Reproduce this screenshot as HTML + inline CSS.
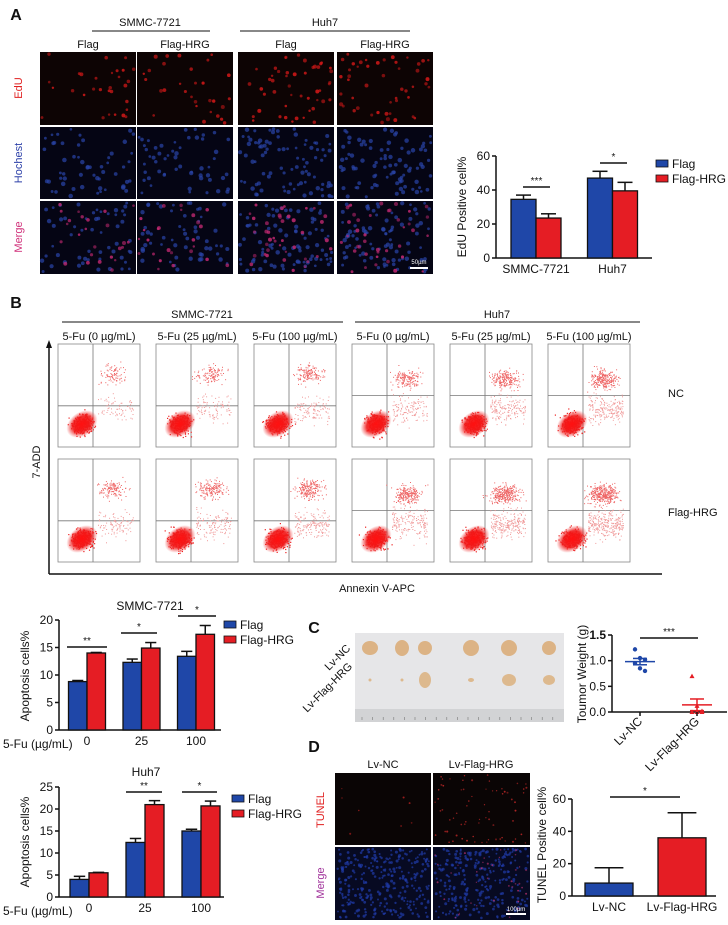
<!DOCTYPE html>
<html><head><meta charset="utf-8"><style>
html,body{margin:0;padding:0;background:#fff;}
svg{display:block;font-family:"Liberation Sans",Arial,sans-serif;}
</style></head><body>
<svg id="fig" width="728" height="925" viewBox="0 0 728 925" xmlns="http://www.w3.org/2000/svg">
<defs>
<radialGradient id="cloud" cx="50%" cy="50%" r="50%">
<stop offset="0" stop-color="#ff1010" stop-opacity="1"/>
<stop offset="0.6" stop-color="#f01818" stop-opacity="0.9"/>
<stop offset="1" stop-color="#f04040" stop-opacity="0"/>
</radialGradient>
</defs>
</svg>
<script>
// ===== data =====
const edCats=['SMMC-7721','Huh7'];
const edFlag=[34.5,47];
const edFlagErr=[2.5,4];
const edHrg=[23.5,39.5];
const edHrgErr=[2.5,5];
const edTicks=[0,20,40,60];
const apoDoses=['0','25','100'];
const smFlag=[8.8,12.3,13.4];
const smFlagErr=[0.2,0.6,0.9];
const smHrg=[14,14.9,17.4];
const smHrgErr=[0.1,1,1.6];
const smTicks=[0,5,10,15,20];
const huFlag=[4,12.4,15];
const huFlagErr=[0.7,0.9,0.4];
const huHrg=[5.5,21,20.7];
const huHrgErr=[0.1,0.9,1.1];
const huTicks=[0,5,10,15,20,25];
const tumorCats=['Lv-NC','Lv-Flag-HRG'];
const tumorNC=[1.22,1.05,1.02,0.95,0.85,0.8];
const tumorHRG=[0.7,0.12,0.02,0.0,0.0,0.0];
const tumorTicks=[0.0,0.5,1.0,1.5];
const tunelCats=['Lv-NC','Lv-Flag-HRG'];
const tunelVals=[8,36];
const tunelErr=[9.5,15.5];
const tunelTicks=[0,20,40,60];

const S=document.getElementById('fig');
const NS='http://www.w3.org/2000/svg';
const BLUE='#1f47a8',RED='#e51d24';
function el(tag,attrs,parent){const e=document.createElementNS(NS,tag);for(const k in attrs)e.setAttribute(k,attrs[k]);(parent||S).appendChild(e);return e;}
function txt(x,y,s,size,name,opts){opts=opts||{};const t=el('text',{x:x,y:y,'font-size':size,fill:opts.fill||'#111','text-anchor':opts.anchor||'middle','font-weight':opts.bold?'bold':'normal'});
if(opts.rot!==undefined)t.setAttribute('transform','rotate('+opts.rot+' '+x+' '+y+')');
t.textContent=s;


return t;}
function line(x1,y1,x2,y2,name,w,c){const l=el('line',{x1:x1,y1:y1,x2:x2,y2:y2,stroke:c||'#111','stroke-width':w||1.5});


return l;}
let seed=7;function rnd(){seed=(seed*16807)%2147483647;return seed/2147483647;}
function gauss(){return (rnd()+rnd()+rnd()+rnd()-2)/1.15;}

txt(16,20,'A',16,'panel-a-label',{bold:true});
txt(16,308,'B',16,'panel-b-label',{bold:true});
txt(314,633,'C',16,'panel-c-label',{bold:true});
txt(314,752,'D',16,'panel-d-label',{bold:true});

function micro(x,y,w,h,bg,dots,name){
  const g=el('g',{});
  
  
  el('rect',{x:x,y:y,width:w,height:h,fill:bg},g);
  dots.forEach(d=>{for(let i=0;i<d.n;i++){el('circle',{cx:(x+2+rnd()*(w-4)).toFixed(1),cy:(y+2+rnd()*(h-4)).toFixed(1),r:d.r*(0.7+rnd()*0.5),fill:d.c,opacity:d.o||(0.5+rnd()*0.4)},g);}});
  return g;
}
txt(150,26,'SMMC-7721',11,'header-smmc');line(92,31,210,31,'header-line-smmc',1);
txt(325,26,'Huh7',11,'header-huh7');line(240,31,410,31,'header-line-huh7',1);
const aCols=[40,137,238,337],aLab=['Flag','Flag-HRG','Flag','Flag-HRG'];
aCols.forEach((cx,i)=>txt(cx+48,48,aLab[i],11,'col-label-'+aLab[i].toLowerCase()));
const aRows=[52,127,201];
aCols.forEach((cx,i)=>{const dense=i>=2?1.6:1;
 micro(cx,aRows[0],96,73,'#0d0404',[{n:Math.round(30*dense),r:1.7,c:'#d01818'}],'edu-image');
 micro(cx,aRows[1],96,72,'#050514',[{n:Math.round(55*dense),r:1.9,c:'#2a44a8',o:0.7}],'hoechst-image');
 micro(cx,aRows[2],96,73,'#050514',[{n:Math.round(55*dense),r:1.9,c:'#2a44a8',o:0.7},{n:Math.round(25*dense),r:1.7,c:'#c02870'}],'merge-image');
});
line(410,268,428,268,'scale-bar-a',2,'#fff');
txt(419,264,'50µm',6,'scale-label-a',{fill:'#fff'});
txt(22,88,'EdU',11,'row-label-edu',{fill:'#e02020',rot:-90});
txt(22,163,'Hochest',11,'row-label-hochest',{fill:'#2b3fa8',rot:-90});
txt(22,237,'Merge',11,'row-label-merge',{fill:'#d0307a',rot:-90});

function barChart(c){
  const y=v=>c.y0-(v-c.ticks[0])/(c.ticks[c.ticks.length-1]-c.ticks[0])*(c.y0-c.yTop);
  line(c.ax,c.yTop,c.ax,c.y0,c.prefix+'-y-axis',1.5);
  line(c.ax,c.y0,c.axEnd,c.y0,c.prefix+'-x-axis',1.5);
  c.ticks.forEach(t=>{line(c.ax-4,y(t),c.ax,y(t),c.prefix+'-y-tick',1.5);txt(c.ax-6,y(t)+4,String(t),12,c.prefix+'-y-tick-label',{anchor:'end'});});
  c.cats.forEach((cat,i)=>{
    const cx=c.first+i*c.step;
    txt(cx,c.y0+15,cat,12,c.prefix+'-x-label');
    c.series.forEach((s,j)=>{
      const n=c.series.length;const bx=cx-n*c.bw/2+j*c.bw;
      const v=s.vals[i],e=s.err[i];
      line(bx+c.bw/2,y(v),bx+c.bw/2,y(v+e),c.prefix+'-error-bar',1.5);
      line(bx+c.bw/2-c.bw*0.3,y(v+e),bx+c.bw/2+c.bw*0.3,y(v+e),c.prefix+'-error-cap',1.5);
      const r=el('rect',{x:bx,y:y(v),width:c.bw,height:c.y0-y(v),fill:(s.colors?s.colors[i]:s.color),stroke:'#111','stroke-width':1.3});
      
      
    });
  });
  return y;
}
function legend(x,y,name){
  [['Flag',BLUE],['Flag-HRG',RED]].forEach((l,i)=>{
    const r=el('rect',{x:x,y:y+i*15-5,width:12,height:7,fill:l[1],stroke:'#111','stroke-width':0.8});
    
    
    txt(x+16,y+i*15+3,l[0],12,name+'-entry',{anchor:'start'});
  });
}
function sig(x1,x2,yy,s,name){line(x1,yy,x2,yy,name+'-line',1.5);txt((x1+x2)/2,yy-3,s,10,name+'-stars');}

barChart({prefix:'edu-chart',ax:496,axEnd:652,y0:258,yTop:156,ticks:edTicks,cats:edCats,first:536,step:76.5,bw:25,
 series:[{key:'flag',vals:edFlag,err:edFlagErr,color:BLUE},{key:'hrg',vals:edHrg,err:edHrgErr,color:RED}]});
sig(523,550,187,'***','edu-sig-smmc');sig(600,627,163,'*','edu-sig-huh7');
legend(656,165,'edu-legend');
txt(466,207,'EdU Positive cell%',12,'edu-y-title',{rot:-90});

txt(202,318,'SMMC-7721',11,'header-b-smmc');line(62,322,343,322,'header-b-line-smmc',1);
txt(497,318,'Huh7',11,'header-b-huh7');line(355,322,640,322,'header-b-line-huh7',1);
const fCols=[58,156,254,352,450,548],fRows=[344,459];
const doses=['5-Fu (0 µg/mL)','5-Fu (25 µg/mL)','5-Fu (100 µg/mL)'];
fCols.forEach((fx,i)=>{txt(fx+41,340,doses[i%3],11,'dose-header');
 fRows.forEach((fy,r)=>{
  const g=el('g',{});
  
  
  el('rect',{x:fx,y:fy,width:82,height:103,fill:'#fff',stroke:'#888','stroke-width':0.8},g);
  const hy=fy+(i>=3?0.5:0.6)*103;
  el('line',{x1:fx+35,y1:fy,x2:fx+35,y2:fy+103,stroke:'#777','stroke-width':0.8},g);
  el('line',{x1:fx,y1:hy,x2:fx+82,y2:hy,stroke:'#777','stroke-width':0.8},g);
  const amt=(i>=3?1.8:1)*(r==1?1.4:1)*(1+(i%3)*0.3);
  for(let k=0;k<Math.round(90*amt);k++){const px=fx+55+gauss()*14,py=fy+(i>=3?35:30)+gauss()*9;
    if(px>fx+2&&px<fx+80&&py>fy+2&&py<fy+101)el('rect',{x:px.toFixed(1),y:py.toFixed(1),width:1,height:1,fill:'#e66'},g);}
  for(let k=0;k<Math.round(70*amt);k++){const px=fx+40+rnd()*35,py=fy+65+gauss()*14;
    if(px>fx+2&&px<fx+80&&py>fy+2&&py<fy+101)el('rect',{x:px.toFixed(1),y:py.toFixed(1),width:1,height:1,fill:'#f09a9a'},g);}
  for(let k=0;k<260;k++){const px=fx+24+gauss()*11,py=fy+80+gauss()*10;el('rect',{x:px.toFixed(1),y:py.toFixed(1),width:1.2,height:1.2,fill:'#e22'},g);}
  el('ellipse',{cx:fx+24,cy:fy+80,rx:17,ry:12,fill:'url(#cloud)',transform:'rotate(-35 '+(fx+24)+' '+(fy+80)+')'},g);
 });
});
line(49,346,49,574,'y-axis-arrow-b',1.5);
el('polygon',{points:'49,340 46,348 52,348',fill:'#111'});
line(49,574,662,574,'x-axis-b',1.5);
txt(40,462,'7-ADD',11,'flow-y-title',{rot:-90});
txt(377,592,'Annexin V-APC',11,'flow-x-title');
txt(668,397,'NC',11,'row-label-nc',{anchor:'start'});
txt(668,516,'Flag-HRG',11,'row-label-flag-hrg',{anchor:'start'});

txt(150,610,'SMMC-7721',12,'apo-smmc-title');
barChart({prefix:'apo-smmc',ax:59,axEnd:221,y0:730,yTop:620,ticks:smTicks,cats:apoDoses,first:87,step:54.5,bw:18.5,
 series:[{key:'flag',vals:smFlag,err:smFlagErr,color:BLUE},{key:'hrg',vals:smHrg,err:smHrgErr,color:RED}]});
txt(3,748,'5-Fu (µg/mL)',12,'apo-smmc-dose-label',{anchor:'start'});
sig(67,107,647,'**','apo-smmc-sig-0');sig(121,157,633,'*','apo-smmc-sig-25');sig(178,216,616,'*','apo-smmc-sig-100');
legend(224,626,'apo-smmc-legend');
txt(29,676,'Apoptosis cells%',12,'apo-smmc-y-title',{rot:-90});

txt(146,776,'Huh7',12,'apo-huh7-title');
barChart({prefix:'apo-huh7',ax:59,axEnd:224,y0:897,yTop:787,ticks:huTicks,cats:apoDoses,first:89,step:56,bw:19,
 series:[{key:'flag',vals:huFlag,err:huFlagErr,color:BLUE},{key:'hrg',vals:huHrg,err:huHrgErr,color:RED}]});
txt(3,915,'5-Fu (µg/mL)',12,'apo-huh7-dose-label',{anchor:'start'});
sig(126,162,792,'**','apo-huh7-sig-25');sig(182,217,792,'*','apo-huh7-sig-100');
legend(232,800,'apo-huh7-legend');
txt(29,842,'Apoptosis cells%',12,'apo-huh7-y-title',{rot:-90});

(function(){
 const g=el('g',{});
 
 
 el('rect',{x:355,y:633,width:209,height:89,fill:'#e6e6e8'},g);
 el('rect',{x:355,y:709,width:209,height:13,fill:'#d2d3d5'},g);
 for(let i=0;i<19;i++)el('line',{x1:362+i*10.6,y1:717,x2:362+i*10.6,y2:720,stroke:'#777','stroke-width':0.6},g);
 const xs=[370,402,425,471,509,549],rs=[[8,7],[7,8],[7,7],[8,8],[8,8],[7,7]],ls=[[1.5,1.5],[1.5,1.5],[6,8],[3,2],[7,6],[6,5]];
 xs.forEach((x,i)=>{el('ellipse',{cx:x,cy:648,rx:rs[i][0],ry:rs[i][1],fill:'#dcb385'},g);el('ellipse',{cx:x,cy:680,rx:ls[i][0],ry:ls[i][1],fill:'#ddb98e'},g);});
})();
txt(340,660,'Lv-NC',11,'photo-label-lv-nc',{rot:-45});
txt(330,690,'Lv-Flag-HRG',11,'photo-label-lv-flag-hrg',{rot:-45});

(function(){
 const ax=612,y0=712,yTop=635,cx=[640,697];
 const y=v=>y0-(v-tumorTicks[0])/(tumorTicks[tumorTicks.length-1]-tumorTicks[0])*(y0-yTop);
 line(ax,yTop,ax,y0,'tumor-y-axis',1.5);line(ax,y0,727,y0,'tumor-x-axis',1.5);
 tumorTicks.forEach(t=>{line(ax-4,y(t),ax,y(t),'tumor-y-tick',1.5);txt(ax-6,y(t)+4,t.toFixed(1),12,'tumor-y-tick-label',{anchor:'end',bold:t===1.5});});
 [tumorNC,tumorHRG].forEach((arr,gi)=>{
  const col=gi?RED:BLUE;const m=arr.reduce((a,b)=>a+b,0)/arr.length;
  const sd=Math.sqrt(arr.reduce((a,b)=>a+(b-m)*(b-m),0)/(arr.length-1)),se=sd/Math.sqrt(arr.length);
  arr.forEach((v,k)=>{const off=((k%3)-1)*5;const p=gi?el('polygon',{points:(cx[gi]+off)+','+(y(v)-2.5)+' '+(cx[gi]+off-2.5)+','+(y(v)+2)+' '+(cx[gi]+off+2.5)+','+(y(v)+2),fill:col}):el('circle',{cx:cx[gi]+off,cy:y(v),r:2.2,fill:col});
   
   });
  line(cx[gi]-15,y(m),cx[gi]+15,y(m),'tumor-mean-line',1.5,col);
  line(cx[gi],y(m-se),cx[gi],y(m+se),'tumor-sem-bar',1.5,col);
  line(cx[gi]-7,y(m-se),cx[gi]+7,y(m-se),'tumor-sem-cap',1.5,col);
  line(cx[gi]-7,y(m+se),cx[gi]+7,y(m+se),'tumor-sem-cap',1.5,col);
  line(cx[gi],y0,cx[gi],y0+4,'tumor-x-tick',1.5);
  txt(cx[gi]+3,y0+10,tumorCats[gi],12,'tumor-x-label',{anchor:'end',rot:-45});
 });
 sig(640,698,638,'***','tumor-sig');
 txt(586,674,'Toumor Weight (g)',12,'tumor-y-title',{rot:-90});
})();

txt(383,768,'Lv-NC',11,'d-header-lv-nc');txt(481,768,'Lv-Flag-HRG',11,'d-header-lv-flag-hrg');
micro(335,773,96,72,'#0a0505',[{n:8,r:0.9,c:'#b02020'}],'tunel-image-nc');
micro(433,773,97,72,'#0a0505',[{n:70,r:0.9,c:'#c02828'}],'tunel-image-hrg');
micro(335,847,96,73,'#070a22',[{n:300,r:1.3,c:'#1f3aa8',o:0.7}],'merge-image-nc');
micro(433,847,97,73,'#070a22',[{n:260,r:1.3,c:'#1f3aa8',o:0.7},{n:40,r:0.9,c:'#b0306a'}],'merge-image-hrg');
line(506,914,526,914,'scale-bar-d',2,'#fff');
txt(516,911,'100µm',6,'scale-label-d',{fill:'#fff'});
txt(324,810,'TUNEL',11,'row-label-tunel',{fill:'#e02020',rot:-90});
txt(324,883,'Merge',11,'row-label-merge-d',{fill:'#a0309a',rot:-90});
barChart({prefix:'tunel-chart',ax:572,axEnd:716,y0:896,yTop:799,ticks:tunelTicks,cats:tunelCats,first:609,step:73,bw:48,
 series:[{key:'val',vals:tunelVals,err:tunelErr,colors:[BLUE,RED]}]});
sig(610,680,797,'*','tunel-sig');
txt(546,845,'TUNEL Positive cell%',12,'tunel-y-title',{rot:-90});
</script>
</body></html>
